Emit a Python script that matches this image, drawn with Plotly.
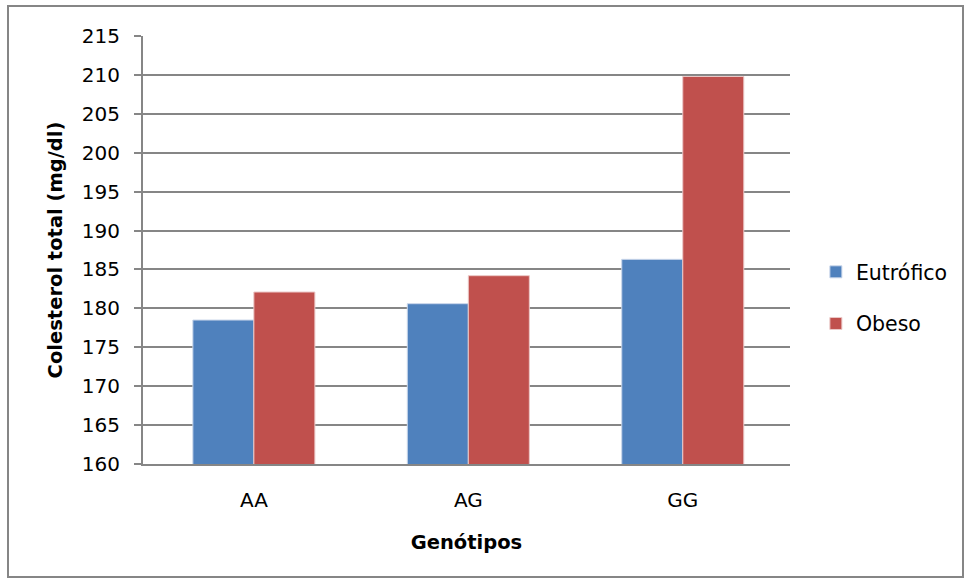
import plotly.graph_objects as go

categories = ["AA", "AG", "GG"]
eutrofico = [178.5, 180.6, 186.3]
obeso = [182.1, 184.2, 209.8]
y_ticks = [160, 165, 170, 175, 180, 185, 190, 195, 200, 205, 210, 215]

FONT = "DejaVu Sans, Open Sans, sans-serif"
GRID = "#868686"

fig = go.Figure()
fig.add_trace(go.Bar(name="Eutrófico", x=categories, y=eutrofico, legendgroup="e",
                     marker=dict(color="#4F81BD", line=dict(color="#C9D6EA", width=1))))
fig.add_trace(go.Bar(name="Obeso", x=categories, y=obeso, legendgroup="o",
                     marker=dict(color="#C0504D", line=dict(color="#EBC8C7", width=1))))

L, R, T, B = 143, 181, 36, 121
W, H = 971, 585
pw, ph = W - L - R, H - T - B

fig.update_layout(
    width=W, height=H,
    margin=dict(l=L, r=R, t=T, b=B),
    paper_bgcolor="white", plot_bgcolor="white",
    barmode="group", bargap=0.431, bargroupgap=0,
    font=dict(family=FONT, size=20, color="black"),
    legend=dict(x=1.04, y=(H - B - 298) / ph, yanchor="middle", xanchor="left",
                font=dict(size=20.5), itemwidth=30, tracegroupgap=22,
                bgcolor="rgba(0,0,0,0)"),
    xaxis=dict(
        range=[-0.517, 2.5],
        showline=True, linecolor=GRID, linewidth=2,
        showgrid=False, ticks="", tickfont=dict(size=20),
        ticklabelstandoff=17,
        title=dict(text="<b>Genótipos</b>", font=dict(size=19.5), standoff=24),
    ),
    yaxis=dict(
        range=[160, 215], tickvals=y_ticks, ticktext=[str(v) for v in y_ticks],
        showline=True, linecolor=GRID, linewidth=2,
        showgrid=True, gridcolor=GRID, gridwidth=2,
        ticks="outside", ticklen=7, tickcolor=GRID, tickwidth=2,
        tickfont=dict(size=20), ticklabelstandoff=10,
        title=dict(text="<b>Colesterol total (mg/dl)</b>", font=dict(size=19.5), standoff=14),
        zeroline=False,
    ),
)

fig.add_shape(type="rect", xref="paper", yref="paper",
              x0=(8 - L) / pw, x1=(963 - L) / pw,
              y0=(H - B - 577) / ph, y1=(H - B - 6) / ph,
              line=dict(color=GRID, width=2), fillcolor="rgba(0,0,0,0)", layer="below")

fig.write_html("out.html", config={"displayModeBar": False},
               post_script="document.body.style.margin='0';")
